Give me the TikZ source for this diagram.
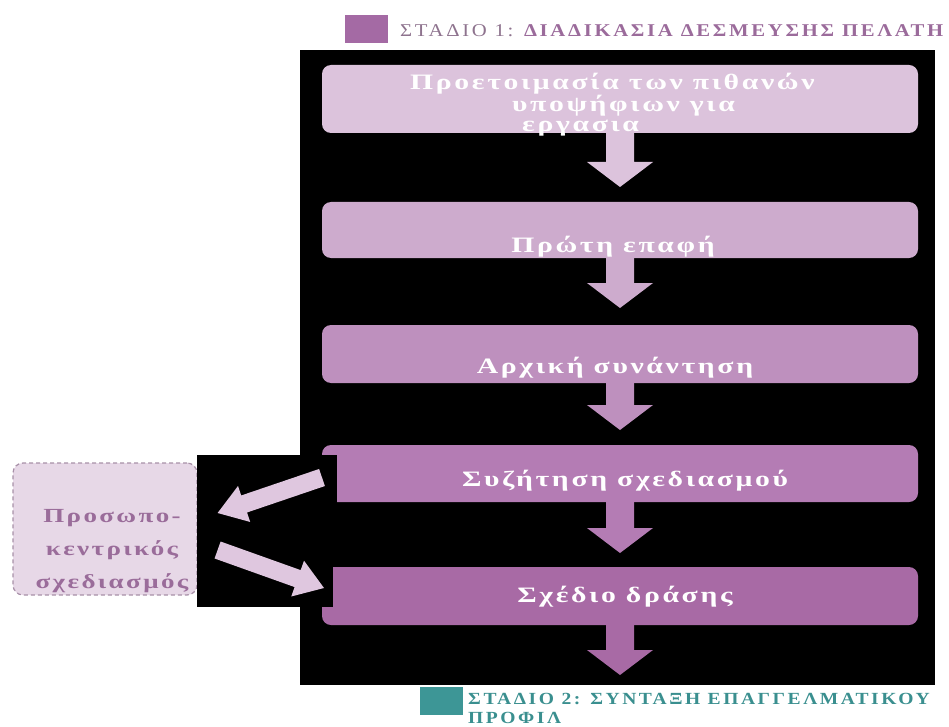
\documentclass[tikz,border=0pt]{standalone}
\usepackage{fontspec}
\setmainfont{Liberation Serif}
\newfontfamily\spaced[LetterSpace=12,FakeStretch=1.35]{Liberation Serif}
\newfontfamily\hdrfont[LetterSpace=15,FakeStretch=1.15]{Liberation Serif}
\usetikzlibrary{calc}
\definecolor{cbA}{HTML}{DCC3DC}
\definecolor{cbB}{HTML}{CDABCD}
\definecolor{cbC}{HTML}{BE90BE}
\definecolor{cbD}{HTML}{B47CB4}
\definecolor{cbE}{HTML}{A86AA5}
\definecolor{hdrsq}{HTML}{A46AA4}
\definecolor{hdrtxt}{HTML}{9B6B9B}
\definecolor{hdrlight}{HTML}{8E738E}
\definecolor{tealsq}{HTML}{3D9696}
\definecolor{tealtxt}{HTML}{3A8F8F}
\definecolor{pcpfill}{HTML}{E7D8E7}
\definecolor{pcpdraw}{HTML}{A890A8}
\definecolor{pcptxt}{HTML}{9A6C9A}
\definecolor{sidearrow}{HTML}{DFC7DF}
\newcommand{\blkarrow}[6]{%
  \coordinate (ahb) at ($(#2)!#6!(#1)$);
  \fill[#3] ($(#1)!#4!90:(#2)$) -- ($(ahb)!#4!90:(#2)$) -- ($(ahb)!#5!90:(#2)$) -- (#2)
    -- ($(ahb)!#5!-90:(#2)$) -- ($(ahb)!#4!-90:(#2)$) -- ($(#1)!#4!-90:(#2)$) -- cycle;}
\tikzset{
  stepbox/.style={rectangle, rounded corners=9pt, fill=#1, draw=none, inner sep=0pt, outer sep=0pt,
    minimum width=596pt},
  boxtext/.style={text=white, inner sep=0pt, font=\spaced\bfseries\fontsize{22}{20}\selectfont},
  blackrect/.style={rectangle, fill=black, draw=none, inner sep=0pt, outer sep=0pt},
  hdrsquare/.style={rectangle, fill=#1, draw=none, inner sep=0pt, minimum width=43pt, minimum height=28pt},
}
\begin{document}
\begin{tikzpicture}[x=1pt,y=-1pt]
\useasboundingbox (0,0) rectangle (949,727);
% header 1
\node[hdrsquare=hdrsq] (sq1) at (366.5,29) {};
\node[anchor=base west, inner sep=0pt, font=\hdrfont\fontsize{18}{20}\selectfont] (h1) at (400,37)
  {\textcolor{hdrlight}{ΣΤΑΔΙΟ 1:} \textcolor{hdrtxt}{\bfseries ΔΙΑΔΙΚΑΣΙΑ ΔΕΣΜΕΥΣΗΣ ΠΕΛΑΤΗ}};
% black panel
\node[blackrect, minimum width=635pt, minimum height=635pt] (panel) at (617.5,367.5) {};
% boxes
\node[stepbox=cbA, minimum height=68pt] (b1) at (620,99) {};
\node[stepbox=cbB, minimum height=56pt] (b2) at (620,230) {};
\node[stepbox=cbC, minimum height=58pt] (b3) at (620,354) {};
\node[stepbox=cbD, minimum height=57pt] (b4) at (620,473.5) {};
\node[stepbox=cbE, minimum height=58pt] (b5) at (620,596) {};
% down arrows
\coordinate (a1s) at ($(b1.south)+(0pt,2pt)$);
\coordinate (a1e) at ($(b2.north)+(0pt,15pt)$);
\coordinate (a2s) at ($(b2.south)+(0pt,2pt)$);
\coordinate (a2e) at ($(b3.north)+(0pt,17pt)$);
\coordinate (a3s) at ($(b3.south)+(0pt,2pt)$);
\coordinate (a3e) at ($(b4.north)+(0pt,15pt)$);
\coordinate (a4s) at ($(b4.south)+(0pt,2pt)$);
\coordinate (a4e) at ($(b5.north)+(0pt,14pt)$);
\coordinate (a5s) at ($(b5.south)+(0pt,2pt)$);
\coordinate (a5e) at ($(b5.south)+(0pt,-50pt)$);
\blkarrow{a1s}{a1e}{cbA}{14pt}{33pt}{25pt}
\blkarrow{a2s}{a2e}{cbB}{14pt}{33pt}{25pt}
\blkarrow{a3s}{a3e}{cbC}{14pt}{33pt}{25pt}
\blkarrow{a4s}{a4e}{cbD}{14pt}{33pt}{25pt}
\blkarrow{a5s}{a5e}{cbE}{14pt}{33pt}{25pt}
% left dashed box
\node[rectangle, rounded corners=10pt, fill=pcpfill, draw=pcpdraw, dash pattern=on 4pt off 3pt, line width=1.2pt,
  minimum width=184pt, minimum height=132pt, inner sep=0pt] (pcp) at (105,529) {};
% black patches behind side arrows
\node[blackrect, minimum width=140pt, minimum height=75pt] (lb1) at (267,492.5) {};
\node[blackrect, minimum width=136pt, minimum height=77pt] (lb2) at (265,568.5) {};
% side arrows
\coordinate (l1s) at ($(b4.west)+(0pt,-4pt)$);
\coordinate (l1e) at ($(pcp.east)+(20pt,16pt)$);
\coordinate (l2s) at ($(pcp.east)+(20pt,-21pt)$);
\coordinate (l2e) at ($(b5.west)+(2pt,8pt)$);
\blkarrow{l1s}{l1e}{sidearrow}{9pt}{19pt}{28pt}
\blkarrow{l2s}{l2e}{sidearrow}{9pt}{19pt}{28pt}
% texts
\node[boxtext, anchor=north west, align=left] (t1) at (410,73)
  {Προετοιμασία των πιθανών\\\hspace*{102pt}υποψήφιων για\\\hspace*{112pt}εργασια};
\node[boxtext, anchor=base] (t2) at (613,252) {Πρώτη επαφή};
\node[boxtext, anchor=base] (t3) at (615,373) {Αρχική συνάντηση};
\node[boxtext, anchor=base] (t4) at (625,486) {Συζήτηση σχεδιασμού};
\node[boxtext, anchor=base] (t5) at (625,602) {Σχέδιο δράσης};
\node[text=pcptxt, align=center, inner sep=0pt, font=\spaced\bfseries\fontsize{20}{33}\selectfont] (pcpt) at (112,551)
  {Προσωπο-\\κεντρικός\\σχεδιασμός};
% header 2
\node[hdrsquare=tealsq] (sq2) at (441.5,701) {};
\node[anchor=north west, inner sep=0pt, align=left, text=tealtxt, font=\hdrfont\bfseries\fontsize{17}{19}\selectfont] (h2) at (468,693)
  {ΣΤΑΔΙΟ 2: ΣΥΝΤΑΞΗ ΕΠΑΓΓΕΛΜΑΤΙΚΟΥ\\ΠΡΟΦΙΛ};
\end{tikzpicture}
\end{document}
